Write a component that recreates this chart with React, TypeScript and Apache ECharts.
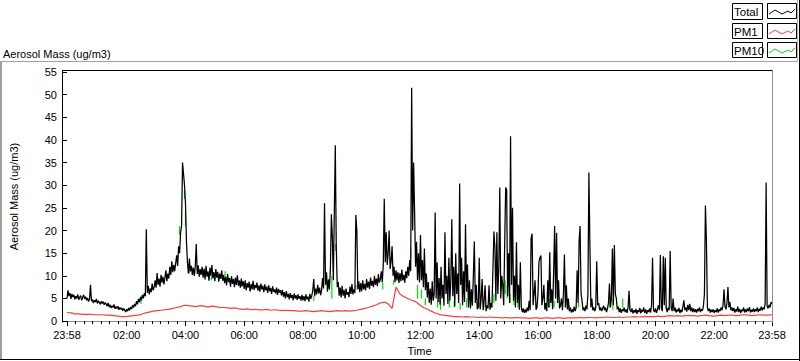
import React, { useEffect, useRef } from "react";
import * as echarts from "echarts";

// minutes between consecutive samples (time axis counts minutes from 23:58)
const TOTAL_STEP = 2;
const PM1_STEP = 8;

const SERIES_NAMES = ["Total", "PM1", "PM10"];

// Total aerosol mass (ug/m3), one value every 2 minutes
const TOTAL = [
  5.0, 6.8, 5.5, 6.2, 4.9, 6.0, 5.3, 5.8, 4.8, 5.5, 5.0, 5.9, 4.7, 5.3, 5.6, 4.6, 5.2, 5.8, 4.9, 5.4,
  4.6, 5.1, 4.3, 4.9, 8.0, 4.4, 4.8, 4.0, 4.6, 4.2, 4.9, 3.9, 4.5, 4.1, 3.7, 4.4, 3.9, 4.3, 3.6, 4.1,
  3.8, 3.3, 4.0, 3.1, 3.6, 2.9, 3.4, 3.0, 3.7, 2.7, 3.2, 2.8, 3.3, 2.5, 3.0, 2.6, 2.9, 2.3, 2.8, 2.4,
  2.0, 2.6, 2.2, 2.9, 2.4, 3.1, 2.7, 3.5, 3.0, 3.8, 3.3, 4.4, 3.7, 4.9, 4.2, 5.3, 4.6, 5.8, 5.0, 6.2,
  5.5, 20.3, 6.2, 7.8, 5.9, 7.2, 6.4, 8.3, 6.8, 7.5, 9.0, 7.4, 10.6, 8.0, 9.4, 7.6, 10.2, 8.5, 9.8, 8.1,
  9.6, 11.2, 8.8, 10.5, 9.4, 12.0, 10.2, 13.2, 10.8, 12.4, 11.0, 12.8, 14.5, 12.2, 16.5, 15.0, 19.5, 21.0, 35.0, 32.5,
  30.0, 26.0, 17.6, 13.0, 10.5, 13.8, 11.0, 12.2, 10.2, 11.8, 10.0, 12.0, 17.0, 10.4, 12.3, 9.8, 11.5, 10.2, 12.0, 9.6,
  11.6, 9.2, 12.2, 9.8, 11.0, 8.9, 11.8, 10.0, 12.4, 9.4, 10.8, 8.8, 11.5, 9.6, 10.9, 8.7, 10.5, 9.3, 11.2, 8.9,
  10.2, 8.4, 9.8, 7.9, 10.4, 8.6, 9.5, 7.6, 9.9, 8.2, 9.3, 7.5, 9.6, 8.0, 10.1, 7.8, 9.0, 7.4, 9.4, 7.7,
  8.8, 7.1, 9.0, 6.8, 8.4, 7.4, 8.7, 6.6, 8.2, 7.0, 8.9, 6.9, 8.0, 7.3, 8.5, 6.7, 7.9, 6.5, 8.3, 7.0,
  7.8, 6.4, 8.1, 6.8, 7.6, 6.2, 7.9, 6.6, 7.3, 6.0, 7.7, 6.5, 7.0, 6.1, 7.4, 5.8, 7.1, 6.3, 6.8, 5.7,
  6.9, 5.4, 6.4, 5.0, 6.6, 5.3, 6.0, 4.8, 6.2, 5.1, 5.8, 4.6, 6.1, 5.0, 5.7, 4.7, 5.9, 4.9, 5.5, 4.5,
  5.8, 4.6, 5.5, 4.4, 5.9, 4.8, 5.4, 4.3, 6.0, 4.9, 5.6, 6.8, 9.3, 5.5, 7.2, 5.9, 8.0, 6.1, 7.4, 5.7,
  6.8, 9.5, 7.2, 26.0, 8.0, 10.8, 6.5, 9.2, 7.0, 11.5, 23.6, 18.5, 9.0, 23.8, 38.8, 16.5, 7.5, 8.6, 5.6, 7.4,
  5.2, 7.8, 5.6, 6.9, 5.0, 7.2, 5.8, 6.4, 5.3, 7.6, 6.0, 8.2, 5.9, 7.0, 6.2, 23.4, 20.0, 7.0, 8.8, 6.4,
  8.4, 6.6, 9.0, 7.0, 8.2, 6.8, 9.3, 7.4, 8.7, 7.1, 9.6, 7.8, 8.9, 7.5, 10.0, 8.0, 9.4, 7.7, 10.4, 8.5,
  9.2, 11.0, 8.6, 12.5, 27.0, 13.0, 19.6, 12.4, 15.0, 20.0, 11.5, 13.2, 16.5, 10.0, 12.0, 8.6, 11.2, 9.0, 10.8, 8.4,
  10.6, 8.8, 11.4, 9.0, 10.2, 8.5, 11.0, 9.5, 12.0, 10.0, 13.5, 11.0, 51.5, 20.0, 35.0, 24.0, 12.0, 17.5, 9.0, 15.0,
  8.5, 19.0, 9.0, 13.5, 7.5, 16.0, 6.8, 10.5, 5.2, 8.6, 4.0, 7.2, 3.6, 8.8, 4.5, 6.0, 24.0, 5.0, 13.0, 4.2,
  9.5, 3.6, 12.0, 5.0, 8.0, 3.4, 19.6, 6.0, 10.0, 3.8, 14.0, 4.5, 9.0, 22.5, 5.5, 12.0, 3.2, 15.0, 6.0, 10.5,
  4.0, 30.4, 8.0, 14.0, 3.5, 11.0, 4.2, 21.4, 6.5, 12.5, 3.0, 9.0, 2.8, 7.0, 3.4, 10.0, 17.6, 4.0, 8.0, 2.6,
  3.0, 14.0, 2.6, 5.0, 9.3, 2.4, 4.5, 7.9, 2.2, 3.5, 2.8, 7.9, 2.5, 4.0, 3.0, 11.5, 19.8, 16.3, 4.5, 19.6,
  6.0, 12.0, 29.5, 5.0, 10.0, 7.9, 3.5, 17.0, 29.5, 29.0, 5.5, 15.0, 4.0, 40.8, 8.0, 25.0, 4.5, 10.0, 3.0, 17.4,
  4.0, 8.0, 2.5, 13.0, 3.0, 2.0, 2.8, 1.8, 2.6, 1.9, 3.0, 2.2, 4.5, 2.4, 18.3, 19.3, 3.5, 6.0, 9.0, 2.5,
  3.0, 6.0, 13.0, 14.0, 14.5, 3.5, 5.0, 8.0, 2.5, 4.0, 2.2, 9.0, 3.0, 15.2, 4.0, 7.0, 2.6, 11.0, 21.0, 5.0,
  19.5, 4.0, 9.0, 2.8, 3.5, 5.0, 2.4, 6.0, 14.7, 3.0, 7.9, 2.6, 5.0, 2.2, 3.0, 1.9, 2.6, 2.0, 3.2, 2.2,
  3.0, 11.2, 4.0, 17.6, 21.0, 6.0, 4.5, 2.4, 3.0, 2.2, 3.4, 2.6, 6.0, 32.8, 17.2, 3.0, 5.0, 2.4, 3.0, 2.2,
  3.0, 13.2, 3.5, 4.0, 2.4, 3.0, 2.2, 2.8, 3.4, 2.4, 3.0, 2.0, 2.8, 4.0, 8.3, 3.0, 5.0, 16.0, 3.5, 16.8,
  6.0, 5.0, 2.6, 3.2, 2.0, 2.8, 1.8, 2.6, 2.2, 3.0, 2.0, 2.6, 1.8, 3.0, 6.7, 2.4, 2.0, 2.8, 1.7, 2.4,
  1.9, 2.7, 1.6, 2.4, 2.0, 2.9, 1.7, 2.5, 2.1, 3.0, 1.8, 2.6, 1.6, 2.4, 2.0, 2.8, 1.9, 3.5, 14.0, 2.4,
  2.0, 2.8, 1.8, 2.6, 3.5, 2.4, 14.6, 3.0, 2.2, 14.3, 3.5, 14.0, 2.8, 2.0, 3.0, 2.4, 15.5, 3.0, 2.2, 5.0,
  2.2, 3.0, 1.9, 2.6, 2.1, 2.9, 1.8, 2.5, 2.0, 3.2, 4.6, 2.4, 3.0, 2.1, 3.6, 2.4, 3.8, 2.2, 3.0, 2.0,
  2.8, 2.0, 2.6, 1.9, 2.7, 2.2, 3.0, 2.0, 2.6, 2.3, 3.4, 6.0, 25.5, 18.0, 3.0, 2.2, 2.8, 1.9, 2.5, 2.0,
  2.6, 1.8, 2.4, 2.0, 2.8, 1.9, 2.6, 2.2, 3.0, 2.4, 3.5, 7.0, 3.2, 2.6, 4.0, 7.5, 3.0, 4.2, 2.4, 3.0,
  2.2, 2.9, 1.9, 2.6, 2.1, 3.2, 2.0, 2.7, 1.8, 2.5, 2.2, 3.0, 1.9, 2.6, 2.0, 2.8, 2.2, 3.1, 1.9, 2.5,
  2.1, 2.8, 2.0, 2.6, 2.2, 3.0, 2.0, 2.7, 2.3, 3.2, 2.4, 3.0, 2.6, 3.8, 30.6, 3.4, 2.8, 3.6, 3.0, 4.2,
  3.8,
];

// PM10 (ug/m3): the short stretches that show from under the Total trace
const PM10_MINUTES = [151, 230, 240, 242, 250, 295, 323, 356, 374, 504, 541, 549, 590, 645, 667, 702, 716, 724, 732, 757, 763, 781, 791, 803, 816, 842, 854, 872, 895, 899, 905, 913, 921, 986, 995, 1025, 1045, 1108, 1115, 1135, 1149, 1224];
const PM10_LOW = [3.8, 19.0, 27.0, 21.0, 10.5, 9.0, 10.0, 7.5, 6.5, 4.5, 5.0, 15.5, 7.0, 7.0, 8.0, 14.0, 5.0, 5.0, 3.5, 3.0, 2.5, 3.0, 3.0, 2.5, 3.0, 3.0, 3.0, 4.0, 6.0, 5.0, 4.0, 3.5, 3.0, 3.0, 3.0, 2.5, 3.0, 3.0, 2.5, 3.0, 2.5, 2.5];
const PM10_HIGH = [5.5, 21.0, 28.7, 24.0, 11.5, 10.0, 11.0, 8.5, 7.5, 5.5, 10.0, 17.0, 8.0, 8.5, 9.0, 16.0, 8.0, 7.0, 5.0, 4.5, 5.0, 5.0, 4.5, 4.0, 5.0, 4.0, 4.0, 6.0, 9.0, 8.0, 6.0, 5.5, 4.5, 5.0, 4.5, 3.5, 4.0, 4.5, 5.0, 5.0, 3.5, 3.5];

// PM1 (ug/m3), one value every 8 minutes
const PM1 = [
  1.9, 1.8, 1.6, 1.6, 1.5, 1.5, 1.5, 1.4, 1.4, 1.4,
  1.3, 1.3, 1.2, 1.1, 1.0, 1.0, 1.1, 1.2, 1.3, 1.5,
  1.8, 2.0, 2.2, 2.3, 2.4, 2.5, 2.6, 2.8, 3.0, 3.2,
  3.5, 3.4, 3.3, 3.2, 3.4, 3.3, 3.1, 3.3, 3.2, 3.0,
  3.0, 2.9, 2.8, 2.9, 2.7, 2.6, 2.7, 2.5, 2.6, 2.5,
  2.5, 2.6, 2.4, 2.5, 2.4, 2.3, 2.4, 2.3, 2.3, 2.2,
  2.2, 2.3, 2.2, 2.1, 2.2, 2.3, 2.2, 2.1, 2.2, 2.3,
  2.2, 2.3, 2.2, 2.3, 2.4, 2.6, 2.8, 3.0, 3.3, 3.6,
  4.0, 4.2, 3.8, 2.8, 7.5, 6.0, 5.4, 5.0, 4.6, 4.3,
  3.6, 3.0, 2.6, 2.2, 1.8, 1.5, 1.3, 1.2, 1.1, 1.0,
  1.0, 0.9, 1.0, 0.9, 0.9, 0.8, 0.9, 0.8, 0.9, 0.8,
  0.8, 0.7, 0.8, 0.7, 0.7, 0.8, 0.7, 0.7, 0.6, 0.7,
  0.7, 0.6, 0.7, 0.7, 0.6, 0.7, 0.7, 0.6, 0.7, 0.7,
  0.7, 0.8, 0.7, 0.8, 0.8, 0.7, 0.8, 0.8, 0.9, 0.8,
  0.8, 0.9, 0.8, 0.9, 0.9, 1.0, 0.9, 1.0, 1.0, 1.0,
  1.0, 1.1, 1.0, 1.1, 1.2, 1.1, 1.2, 1.1, 1.2, 1.2,
  1.2, 1.1, 1.2, 1.3, 1.2, 1.1, 1.2, 1.3, 1.2, 1.3,
  1.3, 1.2, 1.3, 1.4, 1.3, 1.2, 1.3, 1.4, 1.3, 1.3, 1.4,
];

// x-axis tick labels and their positions (minutes from 23:58)
const TICK_LABELS = ["23:58", "02:00", "04:00", "06:00", "08:00", "10:00", "12:00", "14:00", "16:00", "18:00", "20:00", "22:00", "23:58"];
const TICK_MINUTES = [0, 122, 242, 362, 482, 602, 722, 842, 962, 1082, 1202, 1322, 1440];
const Y_MIN = 0;
const Y_MAX = 55;
const Y_STEP = 5;

const FONT = "'Liberation Sans', Arial, sans-serif";
const COLORS = { Total: "#000000", PM1: "#ff3c3c", PM10: "#00e000" };

export default function App() {
  const ref = useRef<HTMLDivElement>(null);

  useEffect(() => {
    if (!ref.current) return;
    const chart = echarts.init(ref.current, undefined, { renderer: "svg" });

    const minorTicks: number[] = [];
    for (let k = 0; k < TICK_MINUTES.length - 1; k++) {
      const a = TICK_MINUTES[k];
      const b = TICK_MINUTES[k + 1];
      for (let s = 0; s < 7; s++) minorTicks.push(a + ((b - a) * s) / 7);
    }
    minorTicks.push(TICK_MINUTES[TICK_MINUTES.length - 1]);

    const totalData = TOTAL.map((v, i) => [i * TOTAL_STEP, v]);
    const pm1Data = PM1.map((v, i) => [i * PM1_STEP, v]);
    const pm10Data: any[] = [];
    PM10_MINUTES.forEach((t, i) => {
      pm10Data.push([t, PM10_LOW[i]]);
      pm10Data.push([t, PM10_HIGH[i]]);
      pm10Data.push([t, null]);
    });

    const zig = [
      [769, 14], [775, 10], [782, 14], [788, 11], [791, 13], [795, 9],
    ];
    const legendRows = [
      { name: SERIES_NAMES[0], color: COLORS.Total, y: 3.5, h: 16 },
      { name: SERIES_NAMES[1], color: COLORS.PM1, y: 23.5, h: 15 },
      { name: SERIES_NAMES[2], color: COLORS.PM10, y: 42.5, h: 15 },
    ];
    const legendGraphics: any[] = [];
    legendRows.forEach((r) => {
      const dy = r.y - 3.5;
      legendGraphics.push({
        type: "rect",
        shape: { x: 732.5, y: r.y, width: 30, height: r.h },
        style: { fill: "#fff", stroke: "#000", lineWidth: 1 },
        z: 100,
      });
      legendGraphics.push({
        type: "text",
        x: 734,
        y: r.y + r.h / 2 + 0.5,
        style: { text: r.name, fontSize: 11.5, fontFamily: FONT, fill: "#000", verticalAlign: "middle", align: "left" },
        z: 101,
      });
      legendGraphics.push({
        type: "rect",
        shape: { x: 767.5, y: r.y, width: 29, height: 15 },
        style: { fill: "#fff", stroke: "#000", lineWidth: 1 },
        z: 100,
      });
      legendGraphics.push({
        type: "polyline",
        shape: { points: zig.map(([x, y]) => [x, y + dy]) },
        style: { stroke: r.color, lineWidth: 1, fill: null },
        z: 101,
      });
    });

    const line = (x1: number, y1: number, x2: number, y2: number, color: string, w = 1) => ({
      type: "line",
      shape: { x1, y1, x2, y2 },
      style: { stroke: color, lineWidth: w },
      z: 100,
      silent: true,
    });

    chart.setOption({
      animation: false,
      backgroundColor: "#ffffff",
      grid: { left: 63, right: 28, top: 72, bottom: 39, containLabel: false },
      xAxis: [
        {
          type: "value",
          min: 0,
          max: 1440,
          position: "bottom",
          axisLine: { show: true, lineStyle: { color: "#8c8c8c", width: 1 } },
          axisTick: { show: true, inside: false, length: 5, customValues: TICK_MINUTES, lineStyle: { color: "#000" } },
          axisLabel: {
            show: true,
            customValues: TICK_MINUTES,
            formatter: (v: number) => {
              const idx = TICK_MINUTES.indexOf(v);
              return idx >= 0 ? TICK_LABELS[idx] : "";
            },
            color: "#000",
            fontSize: 11,
            fontFamily: FONT,
            margin: 8,
          },
          splitLine: { show: false },
          name: "Time",
          nameLocation: "middle",
          nameGap: 23,
          nameTextStyle: { color: "#000", fontSize: 11, fontFamily: FONT },
        },
        {
          type: "value",
          min: 0,
          max: 1440,
          position: "bottom",
          axisLine: { show: false },
          axisTick: { show: true, inside: false, length: 3, customValues: minorTicks, lineStyle: { color: "#000" } },
          axisLabel: { show: false },
          splitLine: { show: false },
        },
      ],
      yAxis: {
        type: "value",
        min: Y_MIN,
        max: Y_MAX,
        interval: Y_STEP,
        axisLine: { show: false },
        axisTick: { show: true, inside: false, length: 5, lineStyle: { color: "#000" } },
        axisLabel: { color: "#000", fontSize: 11, fontFamily: FONT, margin: 10 },
        splitLine: { show: false },
        name: "Aerosol Mass (ug/m3)",
        nameLocation: "middle",
        nameGap: 48,
        nameTextStyle: { color: "#000", fontSize: 11, fontFamily: FONT },
      },
      series: [
        {
          name: SERIES_NAMES[2],
          type: "line",
          data: pm10Data,
          showSymbol: false,
          symbol: "none",
          connectNulls: false,
          lineStyle: { color: COLORS.PM10, width: 1.2 },
          silent: true,
          z: 2,
        },
        {
          name: SERIES_NAMES[0],
          type: "line",
          data: totalData,
          showSymbol: false,
          symbol: "none",
          lineStyle: { color: COLORS.Total, width: 1.25 },
          silent: true,
          z: 3,
        },
        {
          name: SERIES_NAMES[1],
          type: "line",
          data: pm1Data,
          showSymbol: false,
          symbol: "none",
          lineStyle: { color: COLORS.PM1, width: 1.2 },
          silent: true,
          z: 4,
        },
      ],
      graphic: [
        {
          type: "text",
          x: 3,
          y: 54,
          style: { text: "Aerosol Mass (ug/m3)", fontSize: 11, fontFamily: FONT, fill: "#000", verticalAlign: "middle" },
        },
        // outer frame
        line(1, 61.5, 797.5, 61.5, "#a0a0a0"),
        line(1, 61, 1, 360, "#a0a0a0", 2),
        line(797.5, 0, 797.5, 61.5, "#b4b4b4"),
        line(799.5, 0, 799.5, 361, "#000"),
        line(0, 359.5, 800, 359.5, "#000"),
        // inner plot frame
        line(62, 70.5, 773, 70.5, "#000"),
        line(62.5, 70.5, 62.5, 322.5, "#000"),
        line(772.5, 70.5, 772.5, 322.5, "#8c8c8c"),
        ...legendGraphics,
      ],
    });

    return () => chart.dispose();
  }, []);

  return (
    <div
      ref={ref}
      style={{ position: "absolute", left: 0, top: 0, width: 800, height: 361, background: "#fff" }}
    />
  );
}
